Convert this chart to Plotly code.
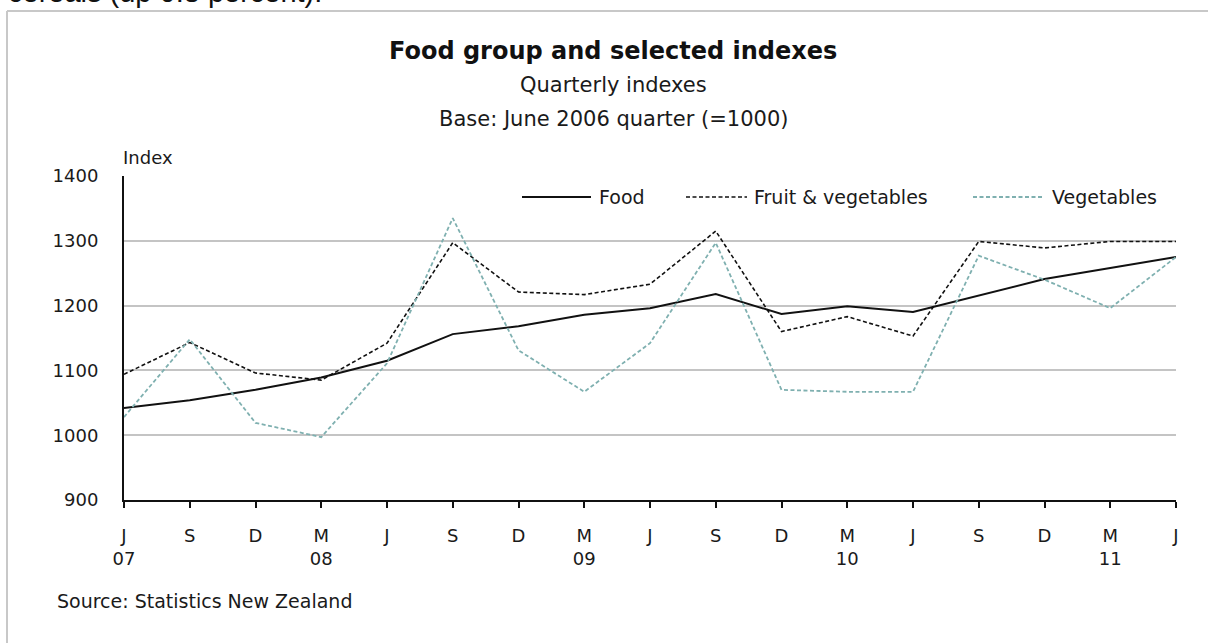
import plotly.graph_objects as go

# ---- data ----
quarters = ["J", "S", "D", "M", "J", "S", "D", "M", "J", "S", "D", "M", "J", "S", "D", "M", "J"]
years = ["07", "", "", "08", "", "", "", "09", "", "", "", "10", "", "", "", "11", ""]
food = [1042, 1054, 1070, 1089, 1115, 1156, 1168, 1186, 1196, 1218, 1187, 1199, 1190, 1216, 1241, 1258, 1275]
fruit_veg = [1094, 1143, 1096, 1085, 1142, 1297, 1221, 1217, 1233, 1315, 1160, 1183, 1153, 1299, 1289, 1299, 1299]
vegetables = [1028, 1148, 1019, 997, 1111, 1335, 1131, 1067, 1142, 1297, 1070, 1067, 1067, 1277, 1240, 1196, 1275]
series_names = ["Food", "Fruit & vegetables", "Vegetables"]
y_ticks = [900, 1000, 1100, 1200, 1300, 1400]

W, H = 1208, 643
L, R, T, B = 124, 32, 176, 143
PW, PH = W - L - R, H - T - B

def px(x):
    return (x - L) / PW

def py(y):
    return (H - B - y) / PH

FONT = "DejaVu Sans"
TXT = "#1a1a1a"
TEAL = "#7fb0b0"

xs = list(range(len(quarters)))
ticktext = [q + ("<br>" + y if y else "") for q, y in zip(quarters, years)]

fig = go.Figure()
fig.add_trace(go.Scatter(x=xs, y=food, mode="lines", name=series_names[0],
                         line=dict(color="#111111", width=2), showlegend=False, cliponaxis=False))
fig.add_trace(go.Scatter(x=xs, y=fruit_veg, mode="lines", name=series_names[1],
                         line=dict(color="#111111", width=1.6, dash="4px,2.5px"), showlegend=False, cliponaxis=False))
fig.add_trace(go.Scatter(x=xs, y=vegetables, mode="lines", name=series_names[2],
                         line=dict(color=TEAL, width=1.8, dash="4px,2.5px"), showlegend=False, cliponaxis=False))

fig.update_layout(
    width=W, height=H,
    margin=dict(l=L, r=R, t=T, b=B, pad=0),
    paper_bgcolor="white", plot_bgcolor="white",
    font=dict(family=FONT, size=18, color=TXT),
    xaxis=dict(range=[0, 16], tickmode="array", tickvals=xs, ticktext=ticktext,
               showgrid=False, zeroline=False, showline=True, linecolor="#111111", linewidth=2,
               ticks="outside", ticklen=6, tickwidth=1.5, tickcolor="#111111",
               tickfont=dict(family=FONT, size=18, color=TXT), ticklabelstandoff=12),
    yaxis=dict(range=[900, 1400], tickmode="array", tickvals=y_ticks,
               showgrid=True, gridcolor="#c4c4c4", gridwidth=1.5, zeroline=False,
               showline=True, linecolor="#111111", linewidth=2, ticks="",
               tickfont=dict(family=FONT, size=18, color=TXT), ticklabelstandoff=20),
)

shapes = []
annotations = []

# outer box (partial frame)
shapes.append(dict(type="line", xref="paper", yref="paper", x0=px(7), x1=px(7), y0=py(11), y1=py(H + 5),
                   line=dict(color="#c8c8c8", width=2)))
shapes.append(dict(type="line", xref="paper", yref="paper", x0=px(7), x1=px(W + 5), y0=py(11), y1=py(11),
                   line=dict(color="#c8c8c8", width=2)))

# cropped text at top
annotations.append(dict(text="cereals (up 0.8 percent).", xref="paper", yref="paper", x=px(6), y=py(10),
                        xanchor="left", yanchor="bottom", showarrow=False,
                        font=dict(family="Liberation Sans", size=29, color="#111111")))

# titles
annotations.append(dict(text="<b>Food group and selected indexes</b>", xref="paper", yref="paper",
                        x=px(613), y=py(51), xanchor="center", yanchor="middle", showarrow=False,
                        font=dict(family=FONT, size=24, color="#111111")))
annotations.append(dict(text="Quarterly indexes", xref="paper", yref="paper",
                        x=px(613), y=py(85), xanchor="center", yanchor="middle", showarrow=False,
                        font=dict(family=FONT, size=21, color=TXT)))
annotations.append(dict(text="Base: June 2006 quarter (=1000)", xref="paper", yref="paper",
                        x=px(613), y=py(119), xanchor="center", yanchor="middle", showarrow=False,
                        font=dict(family=FONT, size=21, color=TXT)))
annotations.append(dict(text="Index", xref="paper", yref="paper",
                        x=px(121), y=py(157), xanchor="left", yanchor="middle", showarrow=False,
                        font=dict(family=FONT, size=18, color=TXT)))
annotations.append(dict(text="Source: Statistics New Zealand", xref="paper", yref="paper",
                        x=px(55), y=py(601), xanchor="left", yanchor="middle", showarrow=False,
                        font=dict(family=FONT, size=19, color=TXT)))

# manual legend
leg = [
    (series_names[0], 522, 591, 597, dict(color="#111111", width=2)),
    (series_names[1], 686, 747, 752, dict(color="#111111", width=1.6, dash="4px,2.5px")),
    (series_names[2], 973, 1043, 1050, dict(color=TEAL, width=1.8, dash="4px,2.5px")),
]
for name, x0, x1, xt, ln in leg:
    shapes.append(dict(type="line", xref="paper", yref="paper", x0=px(x0), x1=px(x1),
                       y0=py(197), y1=py(197), line=ln))
    annotations.append(dict(text=name, xref="paper", yref="paper", x=px(xt), y=py(197),
                            xanchor="left", yanchor="middle", showarrow=False,
                            font=dict(family=FONT, size=19, color=TXT)))

fig.update_layout(shapes=shapes, annotations=annotations)
fig.write_html("out.html")
